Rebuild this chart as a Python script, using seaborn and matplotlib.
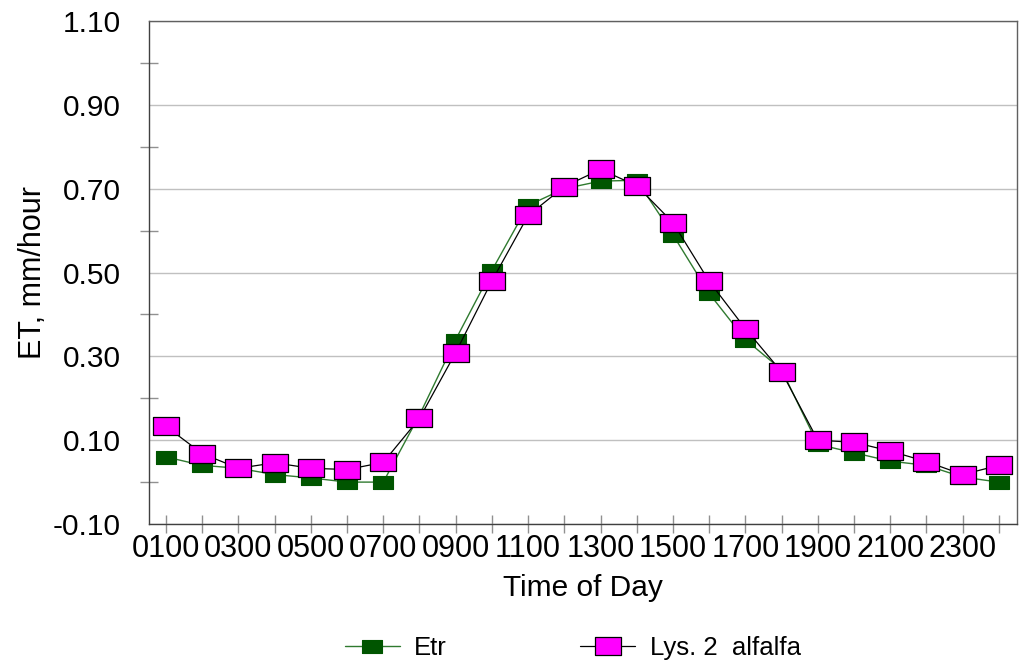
import numpy as np
import pandas as pd
import matplotlib
matplotlib.use("Agg")
import matplotlib.pyplot as plt
from matplotlib.ticker import FixedLocator
import seaborn as sns

# hourly data
hours = ["0100", "0200", "0300", "0400", "0500", "0600", "0700", "0800",
         "0900", "1000", "1100", "1200", "1300", "1400", "1500", "1600",
         "1700", "1800", "1900", "2000", "2100", "2200", "2300", "2400"]
etr = [0.060, 0.040, 0.033, 0.018, 0.010, 0.000, 0.000, 0.160,
       0.340, 0.505, 0.660, 0.700, 0.718, 0.720, 0.590, 0.450,
       0.340, 0.268, 0.090, 0.070, 0.050, 0.040, 0.012, 0.000]
lys2 = [0.133, 0.068, 0.033, 0.046, 0.033, 0.030, 0.047, 0.152,
        0.309, 0.480, 0.636, 0.705, 0.746, 0.707, 0.619, 0.479,
        0.366, 0.263, 0.100, 0.095, 0.074, 0.049, 0.018, 0.040]
ytick_vals = [-0.10, 0.10, 0.30, 0.50, 0.70, 0.90, 1.10]
ytick_minor = [0.0, 0.2, 0.4, 0.6, 0.8, 1.0]

df = pd.DataFrame({"hour": np.arange(1, len(hours) + 1), "Etr": etr, "Lys": lys2})

sns.set_style("white")
plt.rcParams["font.family"] = ["Liberation Sans", "DejaVu Sans"]
plt.rcParams["text.color"] = "black"
plt.rcParams["axes.labelcolor"] = "black"
plt.rcParams["xtick.labelcolor"] = "black"
plt.rcParams["ytick.labelcolor"] = "black"

fig = plt.figure(figsize=(10.19, 6.64), dpi=100)
ax = fig.add_axes([0.1462, 0.2108, 0.8518, 0.7576])

# rectangular markers, wider than tall
rect_etr = [(-1, -0.65), (1, -0.65), (1, 0.65), (-1, 0.65), (-1, -0.65)]
rect_lys = [(-1, -0.69), (1, -0.69), (1, 0.69), (-1, 0.69), (-1, -0.69)]

sns.lineplot(data=df, x="hour", y="Etr", ax=ax, color="#2f7a2f", lw=1.0,
             marker=rect_etr, ms=14.4, mfc="#005500", mec="#005500", mew=0.8,
             label="Etr", zorder=3)
sns.lineplot(data=df, x="hour", y="Lys", ax=ax, color="black", lw=0.9,
             marker=rect_lys, ms=19.2, mfc="#ff00ff", mec="black", mew=0.9,
             label="Lys. 2  alfalfa", zorder=4)

ax.set_xlim(0.53, 24.5)
ax.set_ylim(-0.10, 1.10)

ax.yaxis.set_major_locator(FixedLocator(ytick_vals))
ax.yaxis.set_minor_locator(FixedLocator(ytick_minor))
ax.set_yticklabels([f"{v:.2f}" for v in ytick_vals])
ax.set_xticks(df["hour"])
ax.set_xticklabels([h if i % 2 == 0 else "" for i, h in enumerate(hours)])

ax.grid(axis="y", which="major", color="#c0c0c0", lw=1.0)
ax.tick_params(axis="y", which="major", direction="out", length=9.5, width=1,
               color="#909090", labelsize=21.5, pad=11)
ax.tick_params(axis="y", which="minor", direction="inout", length=12.5, width=1,
               color="#909090", left=True)
ax.tick_params(axis="x", which="major", direction="inout", length=13, width=1,
               color="#909090", labelsize=22, pad=1, bottom=True)

for side in ["left", "bottom"]:
    ax.spines[side].set_color("#404040")
for side in ["top", "right"]:
    ax.spines[side].set_color("#606060")
for sp in ax.spines.values():
    sp.set_linewidth(1.0)

ax.set_xlabel("Time of Day", fontsize=21.5, labelpad=7)
ax.set_ylabel("ET, mm/hour", fontsize=22, labelpad=3)

handles, labels = ax.get_legend_handles_labels()
ax.legend_.remove()
fig.legend(handles, labels, loc="center", bbox_to_anchor=(0.562, 0.024),
           ncol=2, frameon=False, fontsize=18.5, numpoints=1,
           handlelength=2.14, columnspacing=5.2, handletextpad=0.56)

fig.savefig("out.png", dpi=100)
